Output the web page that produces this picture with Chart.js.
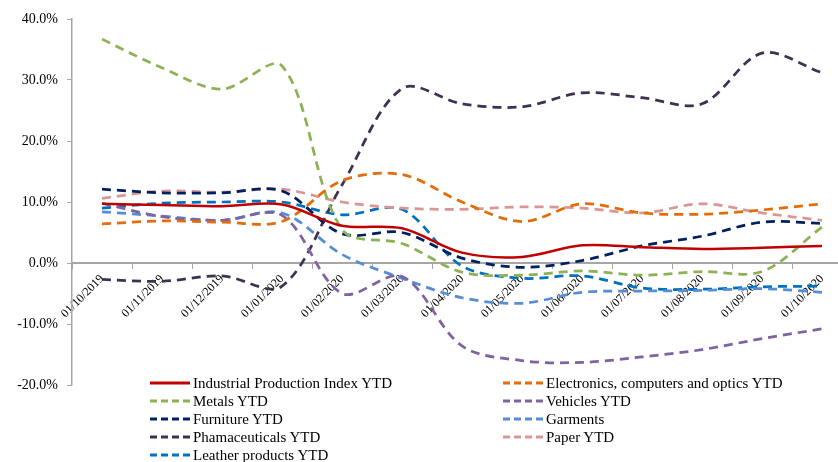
<!DOCTYPE html>
<html>
<head>
<meta charset="utf-8">
<script src="https://cdn.jsdelivr.net/npm/chart.js@4/dist/chart.umd.min.js"></script>
<style>
  html, body { margin: 0; padding: 0; background: #fff; overflow: hidden; }
  #wrap { position: relative; width: 880px; height: 462px; }
  #chart { position: absolute; left: 0; top: 0; }
  #legend { position: absolute; left: 0; top: 0; width: 838px; height: 462px; pointer-events: none;
            font-family: "Liberation Serif", "Times New Roman", serif; font-size: 15px; color: #000; }
  .item { position: absolute; height: 18px; display: flex; align-items: center; white-space: nowrap; }
  .item svg { margin-right: 3px; }
</style>
</head>
<body>
<div id="wrap">
  <canvas id="chart" width="880" height="462"></canvas>
  <div id="legend"></div>
</div>
<script>
// Month labels (first day of each month)
const months = ['01/10/2019','01/11/2019','01/12/2019','01/01/2020','01/02/2020','01/03/2020',
                '01/04/2020','01/05/2020','01/06/2020','01/07/2020','01/08/2020','01/09/2020','01/10/2020'];

// Year-to-date growth, % change
const industrialYTD   = [9.7, 9.5, 9.3, 9.6, 6.1, 5.7, 1.7, 1.0, 2.9, 2.6, 2.3, 2.5, 2.8];
const electronicsYTD  = [6.4, 6.9, 6.7, 6.8, 13.5, 14.5, 10.0, 6.8, 9.7, 8.2, 8.0, 8.7, 9.7];
const metalsYTD       = [36.7, 32.0, 28.5, 32.3, 5.5, 3.2, -1.5, -2.0, -1.3, -2.0, -1.4, -1.4, 5.9];
const vehiclesYTD     = [9.8, 7.6, 7.0, 7.8, -5.0, -2.2, -13.6, -16.0, -16.3, -15.4, -14.2, -12.4, -10.8];
const furnitureYTD    = [12.1, 11.5, 11.5, 11.8, 4.8, 5.0, 0.8, -0.7, 0.4, 2.8, 4.4, 6.7, 6.5];
const garments        = [8.4, 7.7, 7.0, 8.2, 1.4, -2.5, -5.7, -6.6, -4.8, -4.6, -4.5, -4.2, -4.8];
const pharmaYTD       = [-2.7, -3.0, -2.1, -3.8, 12.8, 28.6, 26.1, 25.6, 27.9, 27.1, 26.1, 34.4, 31.2];
const paperYTD        = [10.6, 11.8, 11.6, 12.1, 10.0, 9.0, 8.8, 9.2, 9.0, 8.2, 9.7, 8.2, 7.0];
const leatherYTD      = [9.0, 9.8, 10.0, 10.0, 7.9, 8.8, -0.5, -2.5, -2.1, -4.1, -4.3, -3.9, -3.8];

const seriesNames = ['Industrial Production Index YTD', 'Electronics, computers and optics YTD',
                     'Metals YTD', 'Vehicles YTD', 'Furniture YTD', 'Garments',
                     'Phamaceuticals YTD', 'Paper YTD', 'Leather products YTD'];
const seriesValues = [industrialYTD, electronicsYTD, metalsYTD, vehiclesYTD, furnitureYTD,
                      garments, pharmaYTD, paperYTD, leatherYTD];
const seriesColors = ['#C00000', '#E46C0A', '#8DB255', '#7F62A0', '#002060',
                      '#558ED5', '#403152', '#D99694', '#0070C0'];

const serif = '"Liberation Serif", "Times New Roman", serif';
const DASH = [9, 6];

const datasets = seriesNames.map((name, i) => ({
  label: name,
  data: seriesValues[i],
  borderColor: seriesColors[i],
  backgroundColor: seriesColors[i],
  borderWidth: i === 0 ? 2.5 : 2.75,
  borderDash: i === 0 ? [] : DASH,
  pointRadius: 0,
  tension: 0.33,
  fill: false
}));

const chart = new Chart(document.getElementById('chart'), {
  type: 'line',
  data: { labels: months, datasets },
  options: {
    responsive: false,
    animation: false,
    events: [],
    layout: { padding: { left: 0, right: 28, top: 19, bottom: 77 } },
    plugins: { legend: { display: false }, tooltip: { enabled: false } },
    scales: {
      x: {
        type: 'category',
        offset: true,
        position: { y: 0 },
        border: { display: true, color: '#a6a6a6', width: 2 },
        grid: { display: true, drawOnChartArea: false, drawTicks: true, tickLength: 5,
                offset: true, color: '#a6a6a6', lineWidth: 1 },
        ticks: { autoSkip: false, minRotation: 45, maxRotation: 45, padding: 4,
                 color: '#000', font: { family: serif, size: 12 } }
      },
      y: {
        min: -20, max: 40,
        afterFit: (scale) => { scale.width = 72; },
        border: { display: true, color: '#a6a6a6', width: 1.5 },
        grid: { display: true, drawOnChartArea: false, drawTicks: true, tickLength: 5,
                color: '#a6a6a6', lineWidth: 1 },
        ticks: { stepSize: 10, padding: 9, color: '#000',
                 font: { family: serif, size: 14 },
                 callback: (v) => v.toFixed(1) + '%' }
      }
    }
  }
});

// Two-column legend built from the chart's datasets
const legendEl = document.getElementById('legend');
const colX = [150, 503];
const rowY = 374;
const rowH = 18;
chart.data.datasets.forEach((ds, i) => {
  const col = i % 2, row = Math.floor(i / 2);
  const item = document.createElement('div');
  item.className = 'item';
  item.style.left = colX[col] + 'px';
  item.style.top = (rowY + row * rowH) + 'px';
  const dash = ds.borderDash.length ? 'stroke-dasharray="7 4"' : '';
  item.innerHTML =
    '<svg width="40" height="6"><line x1="0" y1="3" x2="40" y2="3" stroke="' + ds.borderColor +
    '" stroke-width="3" ' + dash + '/></svg><span>' + ds.label + '</span>';
  legendEl.appendChild(item);
});
</script>
</body>
</html>
